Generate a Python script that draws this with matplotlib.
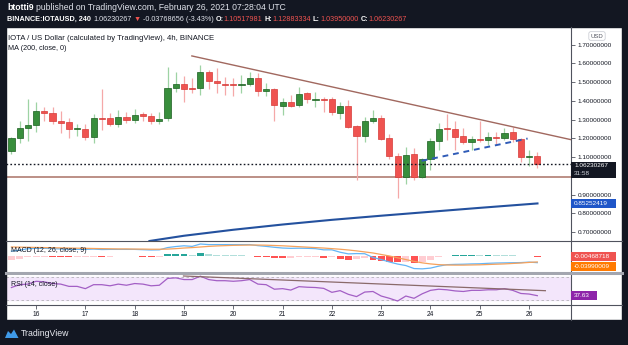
import numpy as np
import matplotlib
matplotlib.use('Agg')
import matplotlib.pyplot as plt
from matplotlib.patches import Rectangle, Polygon
from matplotlib.lines import Line2D

plt.rcParams['font.family'] = ['Liberation Sans', 'DejaVu Sans']

# IOTA/USD 4h candles, first one 15 Feb 12:00, last 26 Feb 04:00
first_candle = 15.5
opens = [1.130, 1.201, 1.254, 1.272, 1.348, 1.338, 1.292, 1.288, 1.251, 1.252,
         1.208, 1.309, 1.308, 1.279, 1.313, 1.299, 1.329, 1.322, 1.290, 1.308,
         1.469, 1.491, 1.469, 1.469, 1.555, 1.508, 1.491, 1.489, 1.484, 1.489,
         1.524, 1.455, 1.462, 1.375, 1.396, 1.379, 1.441, 1.404, 1.411, 1.409,
         1.334, 1.373, 1.268, 1.215, 1.290, 1.311, 1.201, 1.108, 0.996, 1.116,
         0.993, 1.091, 1.187, 1.256, 1.251, 1.212, 1.178, 1.197, 1.192, 1.206,
         1.203, 1.235, 1.196, 1.100, 1.10517981]
highs = [1.209, 1.290, 1.409, 1.396, 1.370, 1.370, 1.348, 1.308, 1.276, 1.276,
         1.331, 1.462, 1.338, 1.352, 1.343, 1.356, 1.343, 1.338, 1.340, 1.583,
         1.553, 1.533, 1.521, 1.592, 1.565, 1.576, 1.530, 1.521, 1.540, 1.556,
         1.548, 1.498, 1.468, 1.414, 1.432, 1.476, 1.450, 1.450, 1.423, 1.423,
         1.396, 1.405, 1.272, 1.316, 1.352, 1.325, 1.224, 1.124, 1.156, 1.148,
         1.094, 1.201, 1.284, 1.331, 1.290, 1.254, 1.213, 1.290, 1.236, 1.236,
         1.254, 1.258, 1.201, 1.139, 1.12883334]
lows = [1.116, 1.174, 1.187, 1.236, 1.290, 1.277, 1.228, 1.204, 1.215, 1.192,
        1.174, 1.247, 1.268, 1.263, 1.281, 1.284, 1.293, 1.277, 1.277, 1.295,
        1.446, 1.393, 1.441, 1.432, 1.462, 1.441, 1.432, 1.427, 1.444, 1.480,
        1.427, 1.425, 1.290, 1.325, 1.370, 1.370, 1.391, 1.370, 1.343, 1.325,
        1.302, 1.254, 0.979, 1.183, 1.281, 1.192, 1.089, 0.884, 0.956, 0.979,
        0.988, 1.032, 1.139, 1.192, 1.139, 1.171, 1.139, 1.183, 1.165, 1.165,
        1.192, 1.183, 1.076, 1.053, 1.0395]
closes = [1.201, 1.256, 1.270, 1.348, 1.334, 1.290, 1.284, 1.251, 1.254, 1.208,
          1.308, 1.302, 1.279, 1.313, 1.299, 1.325, 1.320, 1.293, 1.304, 1.469,
          1.491, 1.464, 1.466, 1.555, 1.507, 1.494, 1.487, 1.484, 1.491, 1.521,
          1.453, 1.464, 1.379, 1.396, 1.375, 1.437, 1.409, 1.411, 1.405, 1.340,
          1.373, 1.263, 1.215, 1.290, 1.308, 1.197, 1.108, 0.996, 1.112, 0.993,
          1.091, 1.188, 1.252, 1.249, 1.208, 1.178, 1.196, 1.192, 1.206, 1.203,
          1.231, 1.196, 1.100, 1.105, 1.06230267]

# MA(200)
ma200_t = [18.3, 19, 20, 21, 22, 23, 24, 25, 26.17]
ma200 = [0.652, 0.680, 0.712, 0.740, 0.765, 0.787, 0.808, 0.829, 0.85252419]

# MACD signal line and histogram
macd_signal = [0.060, 0.059, 0.058, 0.057, 0.056, 0.055, 0.054, 0.053, 0.052, 0.051,
               0.050, 0.049, 0.048, 0.047, 0.047, 0.046, 0.046, 0.045, 0.045, 0.046,
               0.049, 0.053, 0.056, 0.060, 0.064, 0.067, 0.069, 0.071, 0.072, 0.073,
               0.073, 0.072, 0.070, 0.068, 0.065, 0.062, 0.059, 0.056, 0.053, 0.049,
               0.045, 0.040, 0.034, 0.027, 0.020, 0.010, 0.000, -0.012, -0.024, -0.036,
               -0.046, -0.053, -0.058, -0.060, -0.061, -0.061, -0.060, -0.059, -0.057, -0.055,
               -0.053, -0.050, -0.047, -0.043, -0.03990009]
macd_hist = [-0.028, -0.020, -0.010, -0.006, -0.005, -0.006, -0.007, -0.008, -0.008, -0.007,
             -0.004, -0.006, -0.004, -0.003, -0.003, -0.002, -0.004, -0.005, -0.004, 0.010,
             0.014, 0.015, 0.008, 0.020, 0.012, 0.009, 0.007, 0.005, 0.004, 0.003,
             -0.004, -0.008, -0.012, -0.015, -0.014, -0.010, -0.008, -0.007, -0.012, -0.008,
             -0.020, -0.026, -0.018, -0.012, -0.030, -0.034, -0.040, -0.042, -0.040, -0.048,
             -0.040, -0.028, -0.010, 0.002, 0.005, 0.006, 0.007, 0.007, 0.008, 0.008,
             0.007, 0.005, 0.003, 0.002, -0.00468718]

rsi = [52, 57, 58, 63, 62, 59, 58, 54, 54, 50,
       57, 57, 55, 58, 56, 59, 58, 55, 56, 68,
       69, 66, 66, 72, 66, 64, 64, 63, 64, 66,
       58, 57, 49, 50, 47.5, 53.5, 52.5, 52, 50.5, 43.5,
       46.5, 40, 36, 44, 45, 37, 33, 28.2, 37, 33,
       41, 47, 49, 48, 46, 45, 47, 47, 48, 48,
       50, 47, 41.5, 40.5, 37.63]

# drawn lines
resist_t, resist = [19.16, 26.85], [1.640, 1.193]
support = 0.995
inner_t, inner = [23.82, 25.97], [1.080, 1.199]
rsi_line_t, rsi_line = [18.99, 26.33], [72.3, 46.4]
last_price = 1.06230267

price_ticks = [0.7, 0.8, 0.9, 1.0, 1.1, 1.2, 1.3, 1.4, 1.5, 1.6, 1.7]
day_ticks = list(range(16, 27))

DARK = '#131722'
GRID = '#50535e'
W, H = 628, 345


def fx(x):
    return x / W


def fy(y):
    return 1 - y / H


fig = plt.figure(figsize=(6.28, 3.45), dpi=100)
fig.patch.set_facecolor('white')

ax = fig.add_axes([fx(6), fy(241), 565 / W, 214 / H])
axm = fig.add_axes([fx(6), fy(272), 565 / W, 31 / H], sharex=ax)
axr = fig.add_axes([fx(6), fy(305), 565 / W, 31 / H], sharex=ax)
for a in (ax, axm, axr):
    for s in a.spines.values():
        s.set_visible(False)
    a.set_facecolor('white')

o, h, l, c = map(np.array, (opens, highs, lows, closes))
t = first_candle + np.arange(len(c)) / 6
up = c >= o

# candles
ax.vlines(t, l, h, colors=np.where(up, '#9ed3a4', '#f5a8a8'), lw=0.9, zorder=2)
ax.bar(t, np.maximum(np.abs(c - o), 0.003), bottom=np.minimum(o, c), width=0.125,
       color=np.where(up, '#388e3c', '#ef5350'), edgecolor=np.where(up, '#1b5e20', '#d63a37'),
       lw=0.5, zorder=3)

ax.plot(resist_t, resist, color='#a1685f', lw=1.0, zorder=4)
ax.axhline(support, color='#bc8f86', lw=1.4, zorder=1)
ax.axhline(last_price, color=DARK, lw=1.0, ls=(0, (1.2, 1.6)), zorder=4)
ax.plot(inner_t, inner, color='#2f5bb7', lw=1.4, ls=(0, (3, 2.5)), zorder=4)
ax.plot(ma200_t, ma200, color='#24519e', lw=1.5, zorder=4)

ax.set_xlim(15.39, 26.85)
ax.set_ylim(0.652, 1.7945)
ax.yaxis.tick_right()
ax.set_yticks(price_ticks)
# the 1.0 label sits under the last-price tag, as in the original
ax.set_yticklabels(['' if v == 1.0 else '%.8f' % v for v in price_ticks])
ax.tick_params(axis='y', length=3, width=0.6, color=GRID, labelcolor=DARK, labelsize=4.6, pad=2)
ax.tick_params(axis='x', bottom=False, labelbottom=False)

# MACD
hist = np.array(macd_hist)
sig = np.array(macd_signal)
macd = sig + hist
prev = np.r_[hist[0] - 1, hist[:-1]]
hcol = np.where(hist >= 0, np.where(hist > prev, '#26a69a', '#b2dfdb'),
                np.where(hist < prev, '#ff5252', '#ffcdd2'))
axm.bar(t, hist, width=0.14, color=hcol, zorder=2)
axm.plot(t, macd, color='#64b5f6', lw=0.9, zorder=3)
axm.plot(t, sig, color='#f6a25c', lw=0.9, zorder=3)
axm.set_ylim(-0.107, 0.100)
axm.set_yticks([])
axm.tick_params(axis='x', bottom=False, labelbottom=False)

# RSI
axr.axhspan(30, 70, color='#f3e6fb', zorder=0)
for lv in (30, 70):
    axr.axhline(lv, color='#b4b4b8', lw=0.6, ls=(0, (3, 3)), zorder=1)
axr.plot(t, rsi, color='#a35fc5', lw=0.9, zorder=3)
axr.plot(rsi_line_t, rsi_line, color='#8a6a6a', lw=0.9, zorder=4)
axr.set_ylim(21.2, 75.8)
axr.set_yticks([])
axr.set_xticks(day_ticks)
axr.set_xticklabels([str(d) for d in day_ticks])
axr.tick_params(axis='x', length=3, width=0.6, color=GRID, labelcolor=DARK, labelsize=4.8, pad=1.5)

# frame
for x0, y0, w, hh in [(0, 0, 628, 27), (0, 320, 628, 25), (0, 0, 6, 345), (622, 0, 6, 345)]:
    fig.add_artist(Rectangle((fx(x0), fy(y0 + hh)), w / W, hh / H, transform=fig.transFigure,
                             color=DARK, zorder=5))
for xs, ys, col, lw in [([571, 571], [27, 320], GRID, 0.8),
                        ([6, 622], [241, 241], GRID, 0.8),
                        ([6, 622], [273, 273], '#a3a6af', 2.2),
                        ([6, 622], [305, 305], GRID, 0.8)]:
    fig.add_artist(Line2D([fx(v) for v in xs], [fy(v) for v in ys], color=col, lw=lw,
                          transform=fig.transFigure, zorder=5))


def ypx(axis, v):
    return H - axis.transData.transform((t[0], v))[1]


def tag(yc, text, face, hh=9, x1=616, fg='white'):
    fig.add_artist(Rectangle((fx(571), fy(yc + hh / 2)), (x1 - 571) / W, hh / H,
                             transform=fig.transFigure, facecolor=face, edgecolor='none', zorder=6))
    fig.text(fx(574), fy(yc), text, color=fg, size=4.6, va='center', ha='left', zorder=7)


yp = ypx(ax, last_price)
fig.add_artist(Rectangle((fx(571), fy(yp + 14)), 45 / W, 16.6 / H, transform=fig.transFigure,
                         facecolor=DARK, edgecolor='none', zorder=6))
fig.text(fx(574), fy(yp + 1.2), '%.8f' % last_price, color='white', size=4.6, va='center', zorder=7)
fig.text(fx(574), fy(yp + 9.8), '31:58', color='#d1d4dc', size=4.6, va='center', zorder=7)
tag(ypx(ax, ma200[-1]), '%.8f' % ma200[-1], '#1f56c8')
yh = ypx(axm, hist[-1])
tag(yh, '%.8f' % hist[-1], '#ef5350')
tag(yh + 9.8, '%.8f' % sig[-1], '#ff7a00')
tag(ypx(axr, rsi[-1]), '%.2f' % rsi[-1], '#8e24aa', x1=597)
fig.text(fx(597), fy(36), 'USD', size=4.3, color=GRID, ha='center', va='center', zorder=7,
         bbox=dict(boxstyle='round,pad=0.3', fc='white', ec='#c3c6ce', lw=0.5))

# pane captions
fig.text(fx(8), fy(38), 'IOTA / US Dollar (calculated by TradingView), 4h, BINANCE',
         size=5.6, color=DARK, va='center', zorder=7)
fig.text(fx(8), fy(48), 'MA (200, close, 0)', size=5.2, color=DARK, va='center', zorder=7)
fig.text(fx(11), fy(250), 'MACD (12, 26, close, 9)', size=5.0, color=DARK, va='center', zorder=7)
fig.text(fx(11), fy(284), 'RSI (14, close)', size=5.0, color=DARK, va='center', zorder=7)

# header bar
renderer = fig.canvas.get_renderer()


def runs(x, y, parts, size):
    for s, col, wt, gap in parts:
        tx = fig.text(fx(x), fy(y), s, color=col, size=size, weight=wt, va='center', ha='left', zorder=7)
        x += tx.get_window_extent(renderer).width + gap


sp = 2.1
RED = '#ef5350'
runs(7, 7.5, [('btotti9', 'white', 'bold', sp),
              ('published on TradingView.com, February 26, 2021 07:28:04 UTC', '#e0e3eb', 'normal', 0)], 6.2)
runs(7, 19.5, [('BINANCE:IOTAUSD, 240', 'white', 'bold', sp),
               ('1.06230267', '#e0e3eb', 'normal', sp),
               ('\u25bc', RED, 'normal', sp),
               ('-0.03768656 (-3.43%)', '#e0e3eb', 'normal', sp),
               ('O:', 'white', 'bold', 0), ('1.10517981', RED, 'normal', sp),
               ('H:', 'white', 'bold', 0), ('1.12883334', RED, 'normal', sp),
               ('L:', 'white', 'bold', 0), ('1.03950000', RED, 'normal', sp),
               ('C:', 'white', 'bold', 0), ('1.06230267', RED, 'normal', 0)], 5.25)

# footer logo
fig.add_artist(Polygon([(fx(5), fy(338)), (fx(8), fy(331)), (fx(11), fy(334)), (fx(14), fy(329.5)),
                        (fx(18.5), fy(338))], closed=True, transform=fig.transFigure,
                       facecolor='#3f9ae8', edgecolor='none', zorder=6))
fig.text(fx(21), fy(334), 'TradingView', size=6.3, color='#e8eaf0', va='center', zorder=7)

fig.savefig('out.png', dpi=100, facecolor=fig.get_facecolor())
